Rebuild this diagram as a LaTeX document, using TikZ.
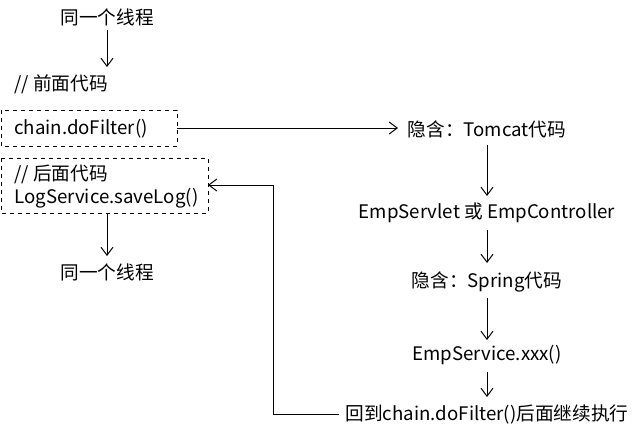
\documentclass[tikz,border=0pt]{standalone}
\usepackage{fontspec}
\setmainfont{Noto Sans CJK SC}
\usetikzlibrary{arrows.meta}
\begin{document}
\begin{tikzpicture}[x=0.75pt,y=-0.75pt,
  every node/.style={font=\fontsize{14}{17}\selectfont, inner sep=0pt},
  arr/.style={draw=black, line width=0.75pt, -{Straight Barb[length=6pt,width=9pt,line width=0.75pt]}},
  dbox/.style={draw=black, dashed, line width=0.6pt}]
\useasboundingbox (0,0) rectangle (639,433);
\node (t1) at (107,17) {同一个线程};
\node[anchor=west] (pre) at (14,84) {// 前面代码};
\draw[dbox] (1,110) rectangle (177,146);
\coordinate (b1r) at (177,128);
\node[anchor=west] (cf) at (14,129) {chain.doFilter()};
\draw[dbox] (1,158) rectangle (208,213);
\coordinate (b2r) at (208,185);
\coordinate (b2b) at (107,213);
\node[anchor=west] (post) at (14,174) {// 后面代码};
\node[anchor=west] (log) at (14,198) {LogService.saveLog()};
\node (t2) at (107,272) {同一个线程};
\node (tom) at (487,129) {隐含：Tomcat代码};
\node (emp) at (487,213) {EmpServlet 或 EmpController};
\node (spr) at (487,282) {隐含：Spring代码};
\node (svc) at (487,355) {EmpService.xxx()};
\node (back) at (487,414) {回到chain.doFilter()后面继续执行};
\draw[arr] (107,30) -- (107,67);
\draw[arr] (b1r) -- (398,128);
\draw[arr] (487,145) -- (487,196);
\draw[arr] (487,230) -- (487,263);
\draw[arr] (487,298) -- (487,340);
\draw[arr] (487,372) -- (487,397);
\draw[arr] (b2b) -- (107,256);
\draw[arr] (back.west) ++(-6,0) -| (273,185) -- (b2r);
\end{tikzpicture}
\end{document}
